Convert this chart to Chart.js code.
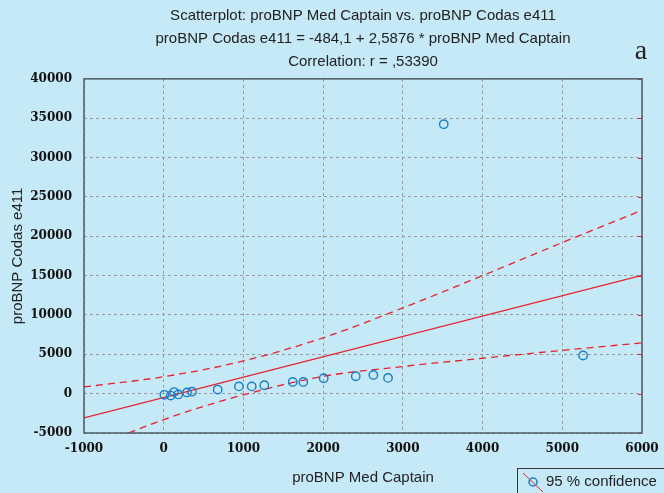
<!DOCTYPE html>
<html>
<head>
<meta charset="utf-8">
<script src="https://cdn.jsdelivr.net/npm/chart.js@4.4.1/dist/chart.umd.min.js"></script>
<style>
  html, body { margin:0; padding:0; background:#c6e9f8; }
  #wrap { width:664px; height:493px; position:relative; }
</style>
</head>
<body>
<div id="wrap"><canvas id="chart"></canvas></div>
<script>
// values
const medCaptain = [8, 88, 130, 183, 292, 355, 677, 944, 1104, 1262, 1618, 1751, 2007, 2409, 2630, 2814, 3513, 5261];
const codasE411  = [-150, -250, 200, -100, 150, 250, 520, 920, 920, 1070, 1490, 1490, 1960, 2210, 2380, 2000, 34240, 4850];

const fitX = [-1000, 6000];
const fitY = [-3072, 15041];

const bandX     = [-1000, 0, 1000, 2000, 3000, 4000, 5000, 6000];
const bandUpper = [850, 2150, 4150, 7100, 10900, 15000, 19200, 23300];
const bandLower = [-7300, -3300, -150, 2200, 3450, 4500, 5500, 6450];

const titleLines = [
  'Scatterplot: proBNP Med Captain vs. proBNP Codas e411',
  'proBNP Codas e411 = -484,1 + 2,5876 * proBNP Med Captain',
  'Correlation: r = ,53390'
];

const BG = '#c6e9f8';
const RED = '#e8202a';
const BLUE = '#1b7cc4';
const SANS = '"Liberation Sans", Arial, sans-serif';

function pairs(xs, ys){ return xs.map((x, i) => ({ x: x, y: ys[i] })); }

// plot frame, right-side red ticks, legend box and panel letter
const extras = {
  id: 'extras',
  beforeDraw(chart){
    const c = chart.ctx;
    c.save();
    c.fillStyle = BG;
    c.fillRect(0, 0, chart.width, chart.height);
    c.restore();
  },
  afterDraw(chart){
    const c = chart.ctx, a = chart.chartArea;
    const ys = chart.scales.y;
    c.save();
    // red ticks on right edge
    c.strokeStyle = RED; c.lineWidth = 1;
    for (let v = -5000; v <= 40000; v += 5000){
      const py = Math.round(ys.getPixelForValue(v)) + 0.5;
      c.beginPath(); c.moveTo(a.right - 4, py); c.lineTo(a.right, py); c.stroke();
    }
    // frame
    c.strokeStyle = '#4f5b63'; c.lineWidth = 1.5;
    c.strokeRect(a.left, a.top, a.right - a.left, a.bottom - a.top);
    // legend box
    c.strokeStyle = '#333'; c.lineWidth = 1;
    c.strokeRect(517.5, 468.5, 160, 40);
    c.strokeStyle = RED; c.lineWidth = 1;
    c.beginPath(); c.moveTo(523, 473); c.lineTo(543, 492); c.stroke();
    c.strokeStyle = BLUE; c.lineWidth = 1.5;
    c.beginPath(); c.arc(533, 482, 4, 0, Math.PI * 2); c.stroke();
    c.fillStyle = '#222'; c.font = '15px ' + SANS;
    c.textBaseline = 'middle';
    c.fillText('95 % confidence', 546, 482);
    // panel letter
    c.font = '28px "Liberation Serif", "Times New Roman", serif';
    c.textAlign = 'center';
    c.textBaseline = 'alphabetic';
    c.fillText('a', 641, 59);
    c.restore();
  }
};

const tickFont = { family: '"DejaVu Serif", serif', size: 12, weight: 'bold' };
const grid = { color: '#9a9a9a', lineWidth: 1, drawTicks: false };

new Chart(document.getElementById('chart'), {
  type: 'scatter',
  data: {
    datasets: [
      { label: 'data', data: pairs(medCaptain, codasE411), showLine: false,
        pointStyle: 'circle', pointRadius: 4.2, pointBorderWidth: 1.4,
        pointBorderColor: BLUE, pointBackgroundColor: 'rgba(0,0,0,0)', order: 0 },
      { label: 'fit', data: pairs(fitX, fitY), showLine: true, borderColor: RED,
        borderWidth: 1.2, pointRadius: 0, order: 1 },
      { label: 'upper', data: pairs(bandX, bandUpper), showLine: true, borderColor: RED,
        borderWidth: 1.3, borderDash: [7, 5], pointRadius: 0, cubicInterpolationMode: 'monotone', order: 1 },
      { label: 'lower', data: pairs(bandX, bandLower), showLine: true, borderColor: RED,
        borderWidth: 1.3, borderDash: [7, 5], pointRadius: 0, cubicInterpolationMode: 'monotone', order: 1 }
    ]
  },
  options: {
    responsive: true,
    maintainAspectRatio: false,
    animation: false,
    layout: { padding: { left: 0, right: 22, top: 0, bottom: 0 } },
    plugins: {
      legend: { display: false },
      tooltip: { enabled: false },
      title: {
        display: true, fullSize: false, text: titleLines, color: '#222',
        font: { family: SANS, size: 15, weight: 'normal', lineHeight: 1.53 },
        padding: { top: 4, bottom: 6 }
      }
    },
    scales: {
      x: {
        type: 'linear', min: -1000, max: 6000,
        grid: grid,
        border: { display: false, dash: [3, 3] },
        ticks: { stepSize: 1000, color: '#111', font: tickFont, padding: 9, callback: v => String(v) },
        title: { display: true, text: 'proBNP Med Captain', color: '#222',
          font: { family: SANS, size: 15 }, padding: { top: 12, bottom: 6 } },
        afterFit(s){ s.height = 60; s.paddingRight = 0; }
      },
      y: {
        type: 'linear', min: -5000, max: 40000,
        grid: grid,
        border: { display: false, dash: [3, 3] },
        ticks: { stepSize: 5000, color: '#111', font: tickFont, padding: 12, callback: v => String(v) },
        title: { display: true, text: 'proBNP Codas e411', color: '#222',
          font: { family: SANS, size: 15 }, padding: { top: 9, bottom: 4 } },
        afterFit(s){ s.width = 84; }
      }
    }
  },
  plugins: [extras]
});
</script>
</body>
</html>
